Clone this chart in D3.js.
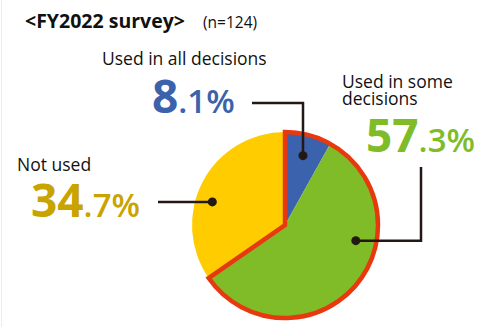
<!DOCTYPE html>
<html>
<head>
<meta charset="utf-8">
<script src="https://cdn.jsdelivr.net/npm/d3@7"></script>
<style>
  html, body { margin: 0; padding: 0; background: #fff; }
  svg { display: block; }
</style>
</head>
<body>
<svg id="chart" width="484" height="327"></svg>
<script>
// Survey result: use of the data in decision making (FY2022, n=124)
const categories = ["Used in all decisions", "Used in some decisions", "Not used"];
const values = [8.1, 57.3, 34.7];
const sliceColors = ["#3b62ad", "#80bc28", "#ffcc00"];
const textColors = ["#3b62ad", "#80bc28", "#c9a300"];
const title = "<FY2022 survey>";
const sampleNote = "(n=124)";

const W = 484, H = 327;
const cx = 285, cy = 225, R = 93;
const svg = d3.select("#chart");

// faint frame line on the left edge
svg.append("line").attr("x1", 1.5).attr("x2", 1.5).attr("y1", 0).attr("y2", H)
  .attr("stroke", "#e8eef6").attr("stroke-width", 1);

// title
svg.append("text").attr("x", 25).attr("y", 28)
  .attr("font-family", "'Open Sans', sans-serif").attr("fill", "#111")
  .attr("font-weight", 700).attr("font-size", 19.5).text(title);
svg.append("text").attr("x", 203).attr("y", 28)
  .attr("font-family", "'Open Sans', sans-serif").attr("fill", "#111")
  .attr("font-size", 15.5).text(sampleNote);

// pie
const pie = d3.pie().sort(null).value(d => d)(values);
const arc = d3.arc().innerRadius(0).outerRadius(R);
const g = svg.append("g").attr("transform", `translate(${cx},${cy})`);
g.selectAll("path.slice").data(pie).join("path")
  .attr("class", "slice")
  .attr("d", arc)
  .attr("fill", (d, i) => sliceColors[i]);

// outline around the "used" share (all + some)
const usedArc = { startAngle: pie[0].startAngle, endAngle: pie[1].endAngle };
g.append("path").attr("d", arc(usedArc))
  .attr("fill", "none").attr("stroke", "#e8380d").attr("stroke-width", 4.5)
  .attr("stroke-linejoin", "miter");

// label layout: text anchor, leader line route and dot placement in the slice
const layout = [
  { nameX: 102, nameY: 65, lines: [categories[0]], numX: 152, numY: 113,
    dot: { a: 0.5, r: 0.77 }, route: (p) => `M252,103H${p[0]}V${p[1]}` },
  { nameX: 342, nameY: 88, lines: ["Used in some", "decisions"], numX: 366, numY: 152,
    dot: { a: 0.356, r: 0.78 }, route: (p) => `M${p[0]},${p[1]}H421V167` },
  { nameX: 17, nameY: 171, lines: [categories[2]], numX: 31, numY: 217,
    dot: { a: 0.42, r: 0.82 }, route: (p) => `M158,${p[1]}H${p[0]}` }
];

pie.forEach((d, i) => {
  const L = layout[i];
  // dot position inside the slice
  const ang = d.startAngle + (d.endAngle - d.startAngle) * L.dot.a;
  const rr = R * L.dot.r;
  const p = [cx + rr * Math.sin(ang), cy - rr * Math.cos(ang)];
  svg.append("path").attr("d", L.route(p))
    .attr("fill", "none").attr("stroke", "#231815").attr("stroke-width", 2.5);
  svg.append("circle").attr("cx", p[0]).attr("cy", p[1]).attr("r", 4.5).attr("fill", "#231815");

  // category name
  const nt = svg.append("text").attr("font-family", "'Open Sans', sans-serif")
    .attr("font-size", 17.5).attr("fill", "#111");
  L.lines.forEach((ln, k) => {
    nt.append("tspan").attr("x", L.nameX).attr("y", L.nameY + k * 17).text(ln);
  });

  // percentage: large integer part, smaller decimal part
  const s = values[i].toFixed(1).split(".");
  const vt = svg.append("text").attr("x", L.numX).attr("y", L.numY)
    .attr("font-family", "'Open Sans', sans-serif").attr("fill", textColors[i]);
  vt.append("tspan").attr("font-size", 46).attr("font-weight", 700).text(s[0]);
  vt.append("tspan").attr("font-size", 33).attr("font-weight", 600).text("." + s[1] + "%");
});
</script>
</body>
</html>
